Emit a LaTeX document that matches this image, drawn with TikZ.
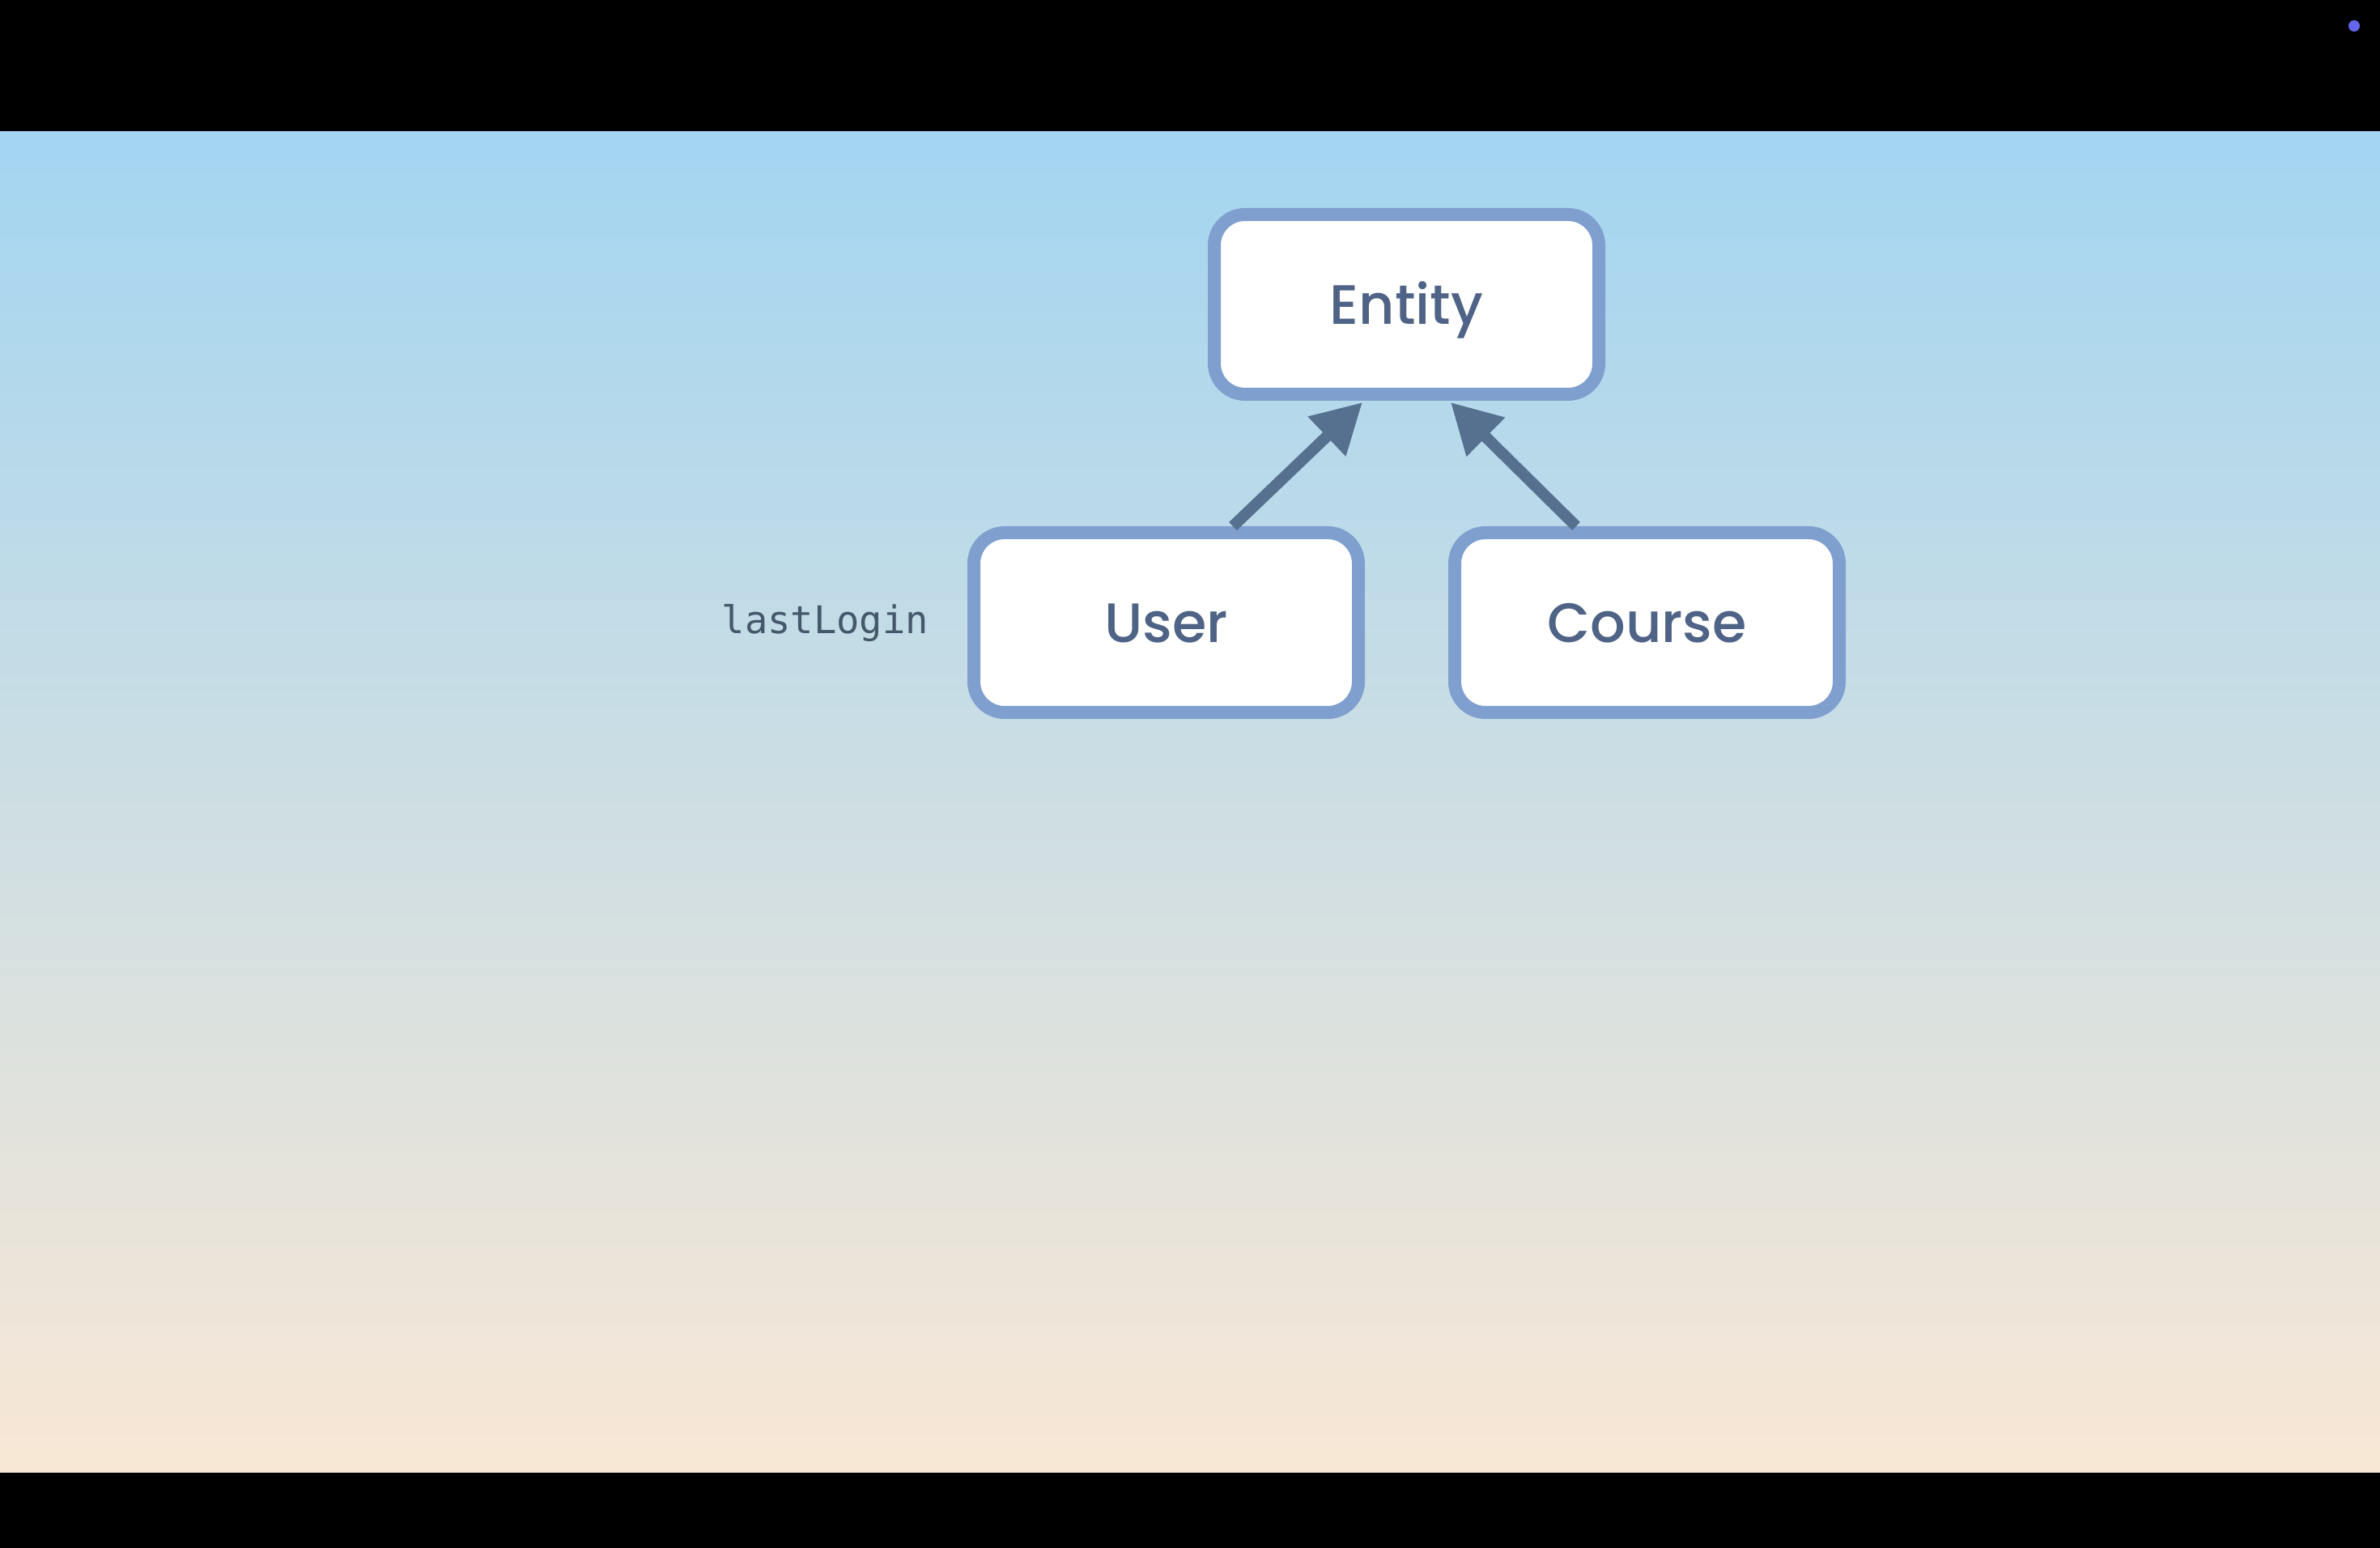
\documentclass[tikz,border=0pt]{standalone}
\usepackage{fontspec}
\setmainfont{Poppins Medium}
\newfontfamily\codefont{DejaVu Sans Mono}
\usetikzlibrary{arrows.meta,calc}
\definecolor{bgtop}{HTML}{A3D5F1}
\definecolor{bgmid}{HTML}{D0E2E6}
\definecolor{bgbot}{HTML}{F8E7D5}
\definecolor{boxborder}{HTML}{7F9FCF}
\definecolor{boxtext}{HTML}{4E6385}
\definecolor{codetext}{HTML}{44586A}
\definecolor{arrowcol}{HTML}{56708F}
\definecolor{dotcol}{HTML}{6466EA}
\tikzset{
  classbox/.style={draw=boxborder, line width=1.6mm, fill=white, rounded corners=3.8mm,
    minimum width=47.5mm, minimum height=22.2mm, inner sep=0pt,
    text height=13.7pt, text depth=0pt,
    text=boxtext, font=\fontsize{19.5}{22}\selectfont},
  inherit/.style={draw=arrowcol, line width=1.4mm, -{Triangle[length=6.1mm,width=6.4mm]}},
  codelabel/.style={text=codetext, font=\codefont\fontsize{13.4}{15}\selectfont, inner sep=0pt, anchor=base west}
}
\begin{document}
\begin{tikzpicture}[x=1mm,y=1mm]
\useasboundingbox (0,0) rectangle (294,191.2);
\fill[black] (0,0) rectangle (294,191.2);
\shade[top color=bgtop, middle color=bgmid, bottom color=bgbot, shading angle=0] (0,9.3) rectangle (294,174.9);
\fill[dotcol] (290.8,188.0) circle (0.7);
\node[classbox] (entity) at (173.75,153.6) {Entity};
\node[classbox] (user) at (144.05,114.3) {User};
\node[classbox] (course) at (203.45,114.3) {Course};
\node[codelabel] (lastlogin) at (89.1,112.9) {lastLogin};
\coordinate (ustart) at ($(user.north)+(8.25,0)$);
\coordinate (uend) at ($(entity.south)+(-5.45,-0.2)$);
\coordinate (cstart) at ($(course.north)+(-8.75,0)$);
\coordinate (cend) at ($(entity.south)+(5.45,-0.2)$);
\draw[inherit] (ustart) -- (uend);
\draw[inherit] (cstart) -- (cend);
\end{tikzpicture}
\end{document}
